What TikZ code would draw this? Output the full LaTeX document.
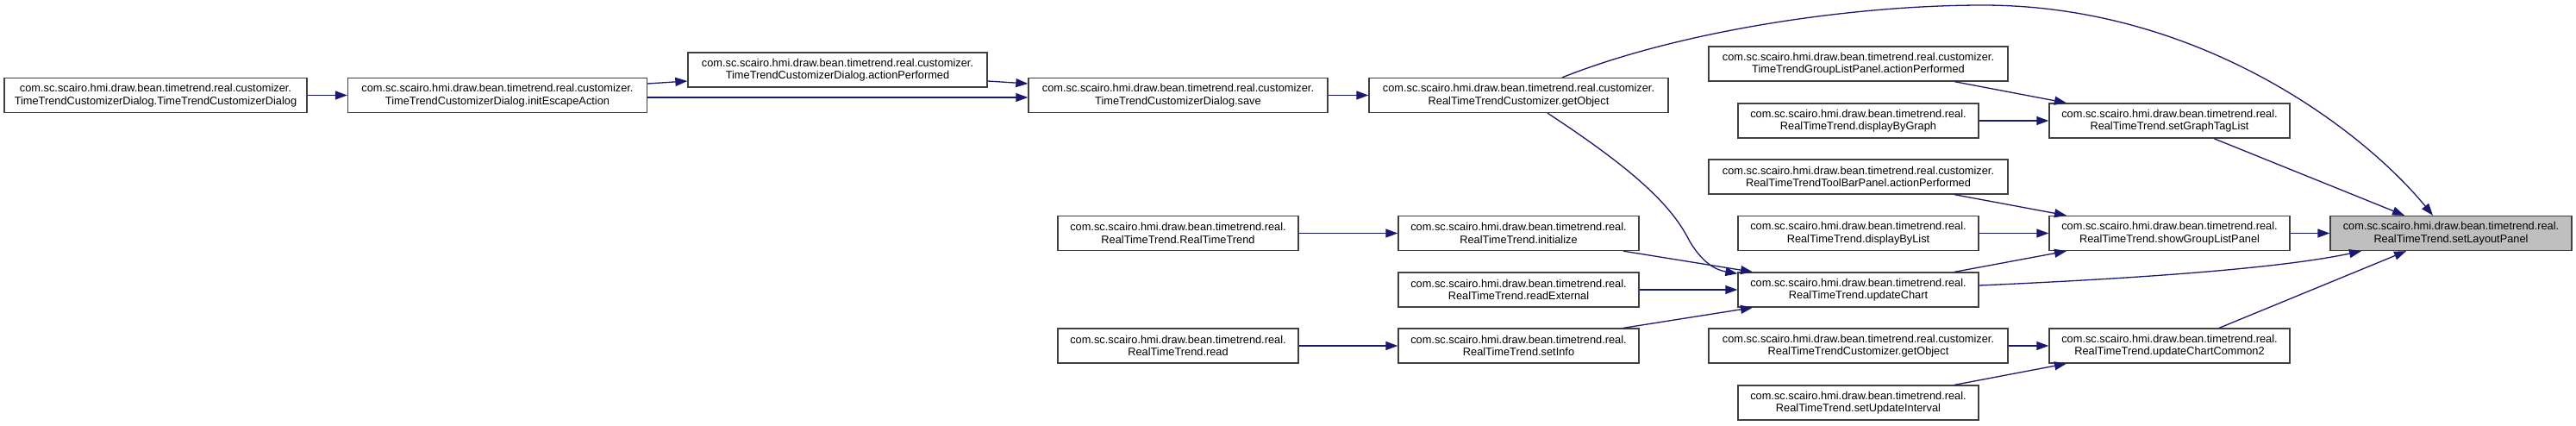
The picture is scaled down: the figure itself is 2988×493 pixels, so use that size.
\documentclass[tikz,border=0pt]{standalone}
\usepackage{fontspec}
\setmainfont{Liberation Sans}
\usetikzlibrary{arrows.meta}
\definecolor{edgeblue}{HTML}{191970}
\definecolor{nodeborder}{HTML}{404040}
\definecolor{hlfill}{HTML}{BFBFBF}
\begin{document}
\begin{tikzpicture}[x=1pt,y=-1pt,
  box/.style={draw=nodeborder, line width=1.3pt, fill=white, inner sep=0pt,
    minimum height=40pt, align=center,
    font=\fontsize{12.8}{14.5}\selectfont},
  wbox/.style={box, minimum width=347pt},
  nbox/.style={box, minimum width=279pt},
  hbox/.style={box, fill=hlfill, minimum width=280pt},
  edge/.style={draw=edgeblue, line width=1.3pt,
    -{Triangle[length=14pt,width=10pt]}, fill=none},
]
\useasboundingbox (0,0) rectangle (2988,493);
% nodes
\node[wbox, minimum width=351pt] (A) at (180.5,110.5) {com.sc.scairo.hmi.draw.bean.timetrend.real.customizer.\\TimeTrendCustomizerDialog.TimeTrendCustomizerDialog};
\node[wbox] (B) at (577,110.5) {com.sc.scairo.hmi.draw.bean.timetrend.real.customizer.\\TimeTrendCustomizerDialog.initEscapeAction};
\node[wbox] (C) at (971.5,81) {com.sc.scairo.hmi.draw.bean.timetrend.real.customizer.\\TimeTrendCustomizerDialog.actionPerformed};
\node[wbox] (D) at (1366.5,110.5) {com.sc.scairo.hmi.draw.bean.timetrend.real.customizer.\\TimeTrendCustomizerDialog.save};
\node[wbox] (E) at (1761.5,110.5) {com.sc.scairo.hmi.draw.bean.timetrend.real.customizer.\\RealTimeTrendCustomizer.getObject};
\node[wbox] (F) at (2155.5,74) {com.sc.scairo.hmi.draw.bean.timetrend.real.customizer.\\TimeTrendGroupListPanel.actionPerformed};
\node[nbox] (G) at (2155.5,140) {com.sc.scairo.hmi.draw.bean.timetrend.real.\\RealTimeTrend.displayByGraph};
\node[wbox] (Q) at (2155.5,205) {com.sc.scairo.hmi.draw.bean.timetrend.real.customizer.\\RealTimeTrendToolBarPanel.actionPerformed};
\node[nbox] (R) at (2155.5,270.5) {com.sc.scairo.hmi.draw.bean.timetrend.real.\\RealTimeTrend.displayByList};
\node[nbox] (S) at (2155.5,336) {com.sc.scairo.hmi.draw.bean.timetrend.real.\\RealTimeTrend.updateChart};
\node[wbox] (T) at (2155.5,401) {com.sc.scairo.hmi.draw.bean.timetrend.real.customizer.\\RealTimeTrendCustomizer.getObject};
\node[nbox] (U) at (2155.5,467) {com.sc.scairo.hmi.draw.bean.timetrend.real.\\RealTimeTrend.setUpdateInterval};
\node[nbox] (L) at (1366.5,270.5) {com.sc.scairo.hmi.draw.bean.timetrend.real.\\RealTimeTrend.RealTimeTrend};
\node[nbox] (M) at (1366.5,401) {com.sc.scairo.hmi.draw.bean.timetrend.real.\\RealTimeTrend.read};
\node[nbox] (N) at (1761.5,270.5) {com.sc.scairo.hmi.draw.bean.timetrend.real.\\RealTimeTrend.initialize};
\node[nbox] (O) at (1761.5,336) {com.sc.scairo.hmi.draw.bean.timetrend.real.\\RealTimeTrend.readExternal};
\node[nbox] (P) at (1761.5,401) {com.sc.scairo.hmi.draw.bean.timetrend.real.\\RealTimeTrend.setInfo};
\node[nbox] (H) at (2516.5,140) {com.sc.scairo.hmi.draw.bean.timetrend.real.\\RealTimeTrend.setGraphTagList};
\node[nbox] (I) at (2516.5,270.5) {com.sc.scairo.hmi.draw.bean.timetrend.real.\\RealTimeTrend.showGroupListPanel};
\node[nbox] (K) at (2516.5,401) {com.sc.scairo.hmi.draw.bean.timetrend.real.\\RealTimeTrend.updateChartCommon2};
\node[hbox] (J) at (2843,270.5) {com.sc.scairo.hmi.draw.bean.timetrend.real.\\RealTimeTrend.setLayoutPanel};
% edges
\draw[edge] (A.east) -- (B.west);
\draw[edge] ([yshift=13.5pt]B.east) -- ([yshift=-13pt]C.west);
\draw[edge] ([yshift=-2.5pt]B.east) -- ([yshift=-2.5pt]D.west);
\draw[edge] ([yshift=-13pt]C.east) -- ([yshift=13.5pt]D.west);
\draw[edge] (D.east) -- (E.west);
\draw[edge] ([xshift=50.5pt]E.north) .. controls (1950,35) and (2150,6) .. (2300,6)
   .. controls (2550,6) and (2740,150) .. ([xshift=-21pt]J.north);
\draw[edge] ([xshift=33.5pt]E.south) .. controls (1900,200) and (1940,240) .. (1960,280)
   .. controls (1975,305) and (1990,313) .. ([yshift=-2pt]S.north west);
\draw[edge] ([xshift=121.5pt]N.south) -- ([xshift=-122.5pt]S.north);
\draw[edge] (O.east) -- (S.west);
\draw[edge] ([xshift=121.5pt]P.north) -- ([xshift=-122.5pt]S.south);
\draw[edge] (L.east) -- (N.west);
\draw[edge] (M.east) -- (P.west);
\draw[edge] ([xshift=111.5pt]F.south) -- ([xshift=-119.5pt]H.north);
\draw[edge] (G.east) -- (H.west);
\draw[edge] ([xshift=111.5pt]Q.south) -- ([xshift=-119.5pt]I.north);
\draw[edge] (R.east) -- (I.west);
\draw[edge] ([xshift=111.5pt]S.north) -- ([xshift=-119.5pt]I.south);
\draw[edge] ([yshift=5pt]S.east) .. controls (2500,322) and (2650,310) .. ([xshift=-104pt]J.south);
\draw[edge] (I.east) -- (J.west);
\draw[edge] ([xshift=51.5pt]H.south) -- ([xshift=-54pt]J.north);
\draw[edge] ([xshift=57.5pt]K.north) -- ([xshift=-52pt]J.south);
\draw[edge] (T.east) -- (K.west);
\draw[edge] ([xshift=111.5pt]U.north) -- ([xshift=-119.5pt]K.south);
\end{tikzpicture}
\end{document}
